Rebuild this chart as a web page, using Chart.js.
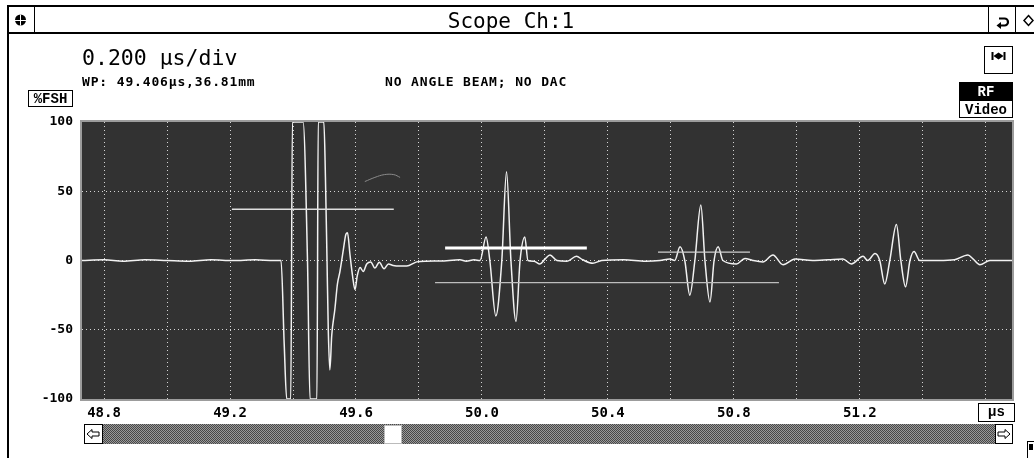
<!DOCTYPE html>
<html>
<head>
<meta charset="utf-8">
<title>Scope Ch:1</title>
<script src="https://cdn.jsdelivr.net/npm/chart.js@4.4.0/dist/chart.umd.min.js"></script>
<style>
    body { margin: 0; background: #fff; }
    #page { position: relative; width: 1034px; height: 458px; overflow: hidden; }
    #chartBox { position: absolute; left: 0; top: 0; width: 1034px; height: 458px; }
    #chrome { position: absolute; left: 0; top: 0; pointer-events: none; }
    .mono { font-family: "DejaVu Sans Mono", monospace; }
    .btn { font-family: "Liberation Mono", monospace; font-weight: bold; font-size: 14px; }
</style>
</head>
<body>
<div id="page">
    <div id="chartBox"><canvas id="scope"></canvas></div>

    <svg id="chrome" width="1034" height="458" viewBox="0 0 1034 458">
        <defs>
            <pattern id="dither" width="2" height="2" patternUnits="userSpaceOnUse">
                <rect width="2" height="2" fill="#999"/>
                <rect width="1" height="1" fill="#474747"/>
                <rect x="1" y="1" width="1" height="1" fill="#474747"/>
            </pattern>
        </defs>

        <!-- window frame / title bar -->
        <rect x="7" y="5" width="1027" height="2" fill="#000"/>
        <rect x="7" y="32" width="1027" height="2" fill="#000"/>
        <rect x="7" y="5" width="2" height="453" fill="#000"/>
        <rect x="34" y="5" width="1" height="28" fill="#000"/>
        <rect x="988" y="5" width="1" height="28" fill="#000"/>
        <rect x="1015" y="5" width="1" height="28" fill="#000"/>
        <circle cx="20.5" cy="20" r="5.5" fill="#000"/>
        <path d="M15 20.5H26M20.5 14.5V25.5" stroke="#fff" stroke-width="1"/>
        <path d="M999 18.5H1004.5A3.5 3.5 0 0 1 1004.5 25.5H1000.5" fill="none" stroke="#000" stroke-width="2.2"/>
        <path d="M996.5 25.5L1001 22V29Z" fill="#000"/>
        <path d="M1028.5 15.5L1033 20.5L1028.5 25.5L1024 20.5Z" fill="none" stroke="#000" stroke-width="1.5"/>
        <text class="mono" x="511" y="28" font-size="21" text-anchor="middle">Scope Ch:1</text>

        <!-- header texts -->
        <text class="mono" x="82" y="65" font-size="21.5">0.200 µs/div</text>
        <text class="mono" x="82" y="86" font-size="13" font-weight="bold" letter-spacing="0.85">WP: 49.406µs,36.81mm</text>
        <text class="mono" x="385" y="86" font-size="13" font-weight="bold" letter-spacing="0.85">NO ANGLE BEAM; NO DAC</text>

        <!-- buttons -->
        <rect x="28.5" y="90.5" width="44" height="16" fill="#fff" stroke="#000"/>
        <text class="btn" x="50.5" y="103" text-anchor="middle">%FSH</text>

        <rect x="984.5" y="46.5" width="28" height="27" fill="#fff" stroke="#000"/>
        <rect x="991.5" y="52" width="2" height="8" fill="#000"/>
        <rect x="1003.5" y="52" width="2" height="8" fill="#000"/>
        <path d="M993.5 56L998.5 52.5V59.5Z M1003.5 56L998.5 52.5V59.5Z" fill="#000"/>

        <rect x="959" y="82" width="54" height="18" fill="#000"/>
        <text class="btn" x="986" y="96" text-anchor="middle" fill="#fff">RF</text>
        <rect x="959.5" y="100.5" width="53" height="17" fill="#fff" stroke="#000"/>
        <text class="btn" x="986" y="114" text-anchor="middle">Video</text>

        <rect x="978.5" y="403.5" width="36" height="18" fill="#fff" stroke="#000"/>
        <text class="btn" x="996.5" y="416" text-anchor="middle">µs</text>

        <!-- scroll bar -->
        <rect x="84" y="424" width="929" height="20" fill="url(#dither)"/>
        <rect x="84.5" y="424.5" width="18" height="19" fill="#fff" stroke="#000"/>
        <path d="M87 434L92 429.5V432H99V436H92V438.5Z" fill="none" stroke="#000" stroke-width="1"/>
        <rect x="995.5" y="424.5" width="17" height="19" fill="#fff" stroke="#000"/>
        <path d="M1010 434L1005 429.5V432H998V436H1005V438.5Z" fill="none" stroke="#000" stroke-width="1"/>
        <rect x="384.5" y="425.5" width="17" height="18" fill="#fff" stroke="#bbb"/>

        <rect x="1027.5" y="441.5" width="7" height="17" fill="#fff" stroke="#000"/>
        <rect x="1029" y="444" width="4" height="6" fill="#000"/>
    </svg>
</div>

<script>
    // Scope trace (time in µs, amplitude in %FSH)
    var traceTime = [
        48.73, 48.80, 48.86, 48.93, 49.00, 49.07, 49.14, 49.21, 49.28, 49.34,
        49.362, 49.372, 49.380, 49.393, 49.398, 49.432, 49.446, 49.454, 49.476, 49.480,
        49.498, 49.503, 49.508, 49.512, 49.517, 49.523, 49.533, 49.541, 49.549, 49.560,
        49.568, 49.573, 49.581, 49.589, 49.597, 49.604, 49.613, 49.623, 49.634, 49.647,
        49.660, 49.674, 49.689, 49.703, 49.718, 49.740, 49.761, 49.793, 49.824, 49.867,
        49.930, 49.950, 49.975, 49.994, 50.013, 50.025, 50.044, 50.063, 50.078, 50.092,
        50.108, 50.121, 50.136, 50.146, 50.165, 50.184, 50.200, 50.216, 50.238, 50.270,
        50.300, 50.320, 50.352, 50.380, 50.450, 50.520, 50.565, 50.597, 50.612, 50.629,
        50.644, 50.660, 50.676, 50.695, 50.708, 50.724, 50.737, 50.750, 50.765, 50.808,
        50.835, 50.860, 50.892, 50.924, 50.956, 50.994, 51.050, 51.100, 51.146, 51.173,
        51.210, 51.225, 51.248, 51.263, 51.279, 51.295, 51.316, 51.330, 51.345, 51.359,
        51.372, 51.390, 51.450, 51.500, 51.543, 51.560, 51.581, 51.613, 51.683
    ];
    var traceAmp = [
        0, 0.5, -0.5, 0.5, 0, -0.5, 0.5, 0, 0.5, 0,
        0, -60, -100, -100, 100, 100, 0, -100, -100, 100,
        100, 60, 0, -50, -79, -54, -35, -17, -8, 8,
        19, 20, 4, -11, -21, -11, -5, -8, -2.5, -1,
        -5.5, -1.2, -6, -2.5, -3.6, -4, -4, -1, -0.5, -0.4,
        0.5, -0.5, 0.5, 0, 17, 0, -40, 0, 64, 0,
        -44, 0, 17, 0, -0.5, -2.5, 1, 4, 0, -0.5,
        3, 0.5, -2, 0, 0.5, -0.5, 0, 1, 0, 10,
        0, -25, 0, 40, 0, -30, 0, 10, 0, -2.5,
        1.5, 0, -1, 4, -3, 1, 0, 0.5, 1, -2.5,
        3, 0, 5, 0, -17, 0, 26, 0, -19, 0,
        6.5, 0, 0, 0.5, 4, 1, -3, 0, 0
    ];

    // Faint ghost arc above the initial pulse
    var ghostTime = [49.628, 49.660, 49.690, 49.720, 49.740];
    var ghostAmp = [57, 60, 62, 62, 60];

    // Gates: start, end, level
    var gateStart = [49.206, 49.883, 49.851, 50.559];
    var gateEnd = [49.720, 50.333, 50.943, 50.851];
    var gateLevel = [37, 9, -16, 6];

    // Axes
    var xMin = 48.73;
    var xMax = 51.683;
    var xGridTicks = [48.8, 49.0, 49.2, 49.4, 49.6, 49.8, 50.0, 50.2, 50.4, 50.6, 50.8, 51.0, 51.2, 51.4, 51.6];
    var xTickLabels = ['48.8', '49.2', '49.6', '50.0', '50.4', '50.8', '51.2'];
    var yTicks = [-100, -50, 0, 50, 100];


    function toPoints(xs, ys) {
        return xs.map(function (x, i) { return {x: x, y: ys[i]}; });
    }

    // Dark screen + frame behind / around the plot
    var scopeScreen = {
        id: 'scopeScreen',
        beforeDraw: function (chart) {
            var a = chart.chartArea, ctx = chart.ctx;
            ctx.save();
            ctx.fillStyle = '#323232';
            ctx.fillRect(a.left, a.top, a.right - a.left, a.bottom - a.top);
            ctx.restore();
        },
        afterDraw: function (chart) {
            var a = chart.chartArea, ctx = chart.ctx;
            ctx.save();
            ctx.strokeStyle = '#9c9c9c';
            ctx.lineWidth = 2;
            ctx.strokeRect(a.left - 1, a.top - 1, a.right - a.left + 2, a.bottom - a.top + 2);
            ctx.restore();
        }
    };

    var gateLook = [
        {color: '#dedede', width: 1.5},
        {color: '#ffffff', width: 3},
        {color: '#bdbdbd', width: 1.2},
        {color: '#cfcfcf', width: 1.2}
    ];

    var datasets = [{
        data: toPoints(traceTime, traceAmp),
        borderColor: '#f2f2f2',
        borderWidth: 1.5,
        pointRadius: 0,
        cubicInterpolationMode: 'monotone',
        order: 2
    }, {
        data: toPoints(ghostTime, ghostAmp),
        borderColor: '#8a8a8a',
        borderWidth: 1,
        pointRadius: 0,
        tension: 0.4,
        order: 3
    }];

    for (var i = 0; i < gateStart.length; i++) {
        datasets.push({
            data: [{x: gateStart[i], y: gateLevel[i]}, {x: gateEnd[i], y: gateLevel[i]}],
            borderColor: gateLook[i].color,
            borderWidth: gateLook[i].width,
            pointRadius: 0,
            order: 1
        });
    }

    var tickFont = {family: 'DejaVu Sans Mono', weight: 'bold'};

    var ctx = document.getElementById('scope').getContext('2d');
    var scopeChart = new Chart(ctx, {
        type: 'line',
        data: {datasets: datasets},
        plugins: [scopeScreen],
        options: {
            responsive: true,
            maintainAspectRatio: false,
            animation: false,
            layout: {padding: {left: 0, top: 122, right: 22, bottom: 0}},
            plugins: {
                legend: {display: false},
                tooltip: {enabled: false}
            },
            scales: {
                x: {
                    type: 'linear',
                    min: xMin,
                    max: xMax,
                    afterBuildTicks: function (axis) {
                        axis.ticks = xGridTicks.map(function (v) { return {value: v}; });
                    },
                    afterFit: function (axis) { axis.height = 59; },
                    ticks: {
                        autoSkip: false,
                        maxRotation: 0,
                        minRotation: 0,
                        padding: 6,
                        color: '#000',
                        font: {family: tickFont.family, weight: tickFont.weight, size: 14},
                        callback: function (value) {
                            var s = Number(value).toFixed(1);
                            return xTickLabels.indexOf(s) >= 0 ? s : '';
                        }
                    },
                    grid: {color: '#d4d4d4', lineWidth: 1, drawTicks: false},
                    border: {display: false, dash: [1, 3]}
                },
                y: {
                    min: -100,
                    max: 100,
                    afterBuildTicks: function (axis) {
                        axis.ticks = yTicks.map(function (v) { return {value: v}; });
                    },
                    afterFit: function (axis) { axis.width = 82; },
                    ticks: {
                        padding: 9,
                        color: '#000',
                        font: {family: tickFont.family, weight: tickFont.weight, size: 13}
                    },
                    grid: {
                        color: function (c) {
                            return c.tick && Math.abs(c.tick.value) === 100 ? 'rgba(0,0,0,0)' : '#d4d4d4';
                        },
                        lineWidth: 1,
                        drawTicks: false
                    },
                    border: {display: false, dash: [1, 3]}
                }
            }
        }
    });
</script>
</body>
</html>
